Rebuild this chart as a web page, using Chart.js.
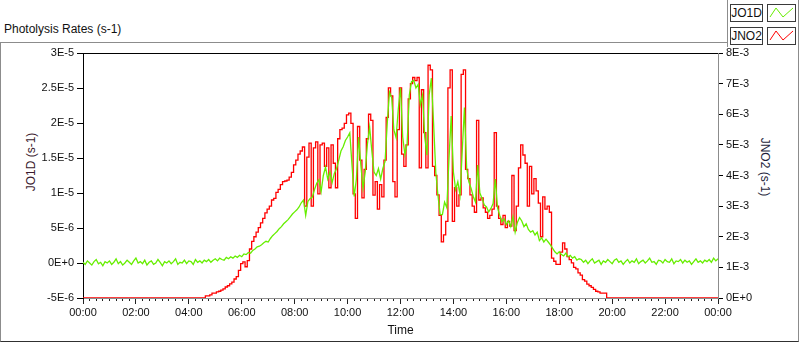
<!DOCTYPE html>
<html>
<head>
<meta charset="utf-8">
<script src="https://cdn.jsdelivr.net/npm/chart.js@4.4.1/dist/chart.umd.min.js"></script>
<style>
  html, body { margin: 0; padding: 0; background: #fff; }
  #wrap { position: relative; width: 800px; height: 342px; overflow: hidden;
          font-family: "Liberation Sans", Arial, sans-serif; color: #111; }
  #frame { position: absolute; left: 0; top: 42px; width: 797px; height: 298px;
           border: 1px solid #8c8c8c; border-bottom-color: #303030; }
  #title { position: absolute; left: 4px; top: 22px; font-size: 12px; white-space: nowrap; }
  #legendPanel { position: absolute; left: 727px; top: 0; width: 70px; height: 47px; background: #fff;
                 border-left: 1px solid #8c8c8c; border-right: 1px solid #8c8c8c; }
  .lgName { position: absolute; left: 730px; width: 33px; height: 18px; box-sizing: border-box;
            border: 1px solid #3a3a3a; font-size: 12px; line-height: 16px; text-align: center; background: #fff; }
  .lgSample { position: absolute; left: 767px; width: 29px; height: 18px; box-sizing: border-box;
              border: 1px solid #3a3a3a; background: #fff; }
  .lgSample svg { position: absolute; left: 0; top: 0; }
  .axTitle { position: absolute; font-size: 12px; white-space: nowrap; transform: translate(-50%, -50%); }
  canvas { position: absolute; left: 0; top: 0; }
</style>
</head>
<body>
<div id="wrap">
  <div id="frame"></div>
  <div id="title">Photolysis Rates (s-1)</div>
  <div id="legendPanel"></div>
  <div class="lgName" style="top:4px">JO1D</div>
  <div class="lgSample" style="top:4px"><svg width="27" height="16"><polyline points="2,12 8,3 15,12 25,3" fill="none" stroke="#66ee00" stroke-width="1"/></svg></div>
  <div class="lgName" style="top:27px">JNO2</div>
  <div class="lgSample" style="top:27px"><svg width="27" height="16"><polyline points="2,12 8,3 15,12 25,3" fill="none" stroke="#ff0000" stroke-width="1"/></svg></div>
  <div class="axTitle" style="left:31px; top:162px; transform: translate(-50%,-50%) rotate(-90deg); color:#3a1a2e">JO1D (s-1)</div>
  <div class="axTitle" style="left:765px; top:167px; transform: translate(-50%,-50%) rotate(90deg); color:#1e1e3a">JNO2 (s-1)</div>
  <canvas id="chart" width="800" height="342"></canvas>
</div>
<script>
// samples every 5 minutes, one row per hour (00:00 ... 23:55), then 24:00
const STEP_MIN = 5;

// JO1D in units of 1E-6 s-1
const jo1dValues = [
  0.1,-0.2,0.3,0.0,-0.3,0.2,0.5,-0.1,0.1,-0.4,0.2,0.0,
  0.3,-0.2,0.1,0.6,-0.1,0.2,-0.3,0.0,0.4,0.1,-0.2,0.3,
  0.7,0.0,0.2,-0.1,0.4,-0.3,0.1,0.3,-0.2,0.0,0.5,0.1,
  -0.4,0.2,0.0,0.3,-0.1,0.2,0.6,-0.2,0.1,0.0,0.4,-0.1,
  0.3,0.2,-0.2,0.5,0.1,0.3,0.0,0.4,0.2,0.5,0.1,0.4,
  0.6,0.3,0.7,0.5,0.4,0.8,0.6,0.9,0.7,1.0,0.8,1.1,
  0.9,1.3,1.2,1.5,1.4,1.8,2.0,2.3,2.4,2.6,2.9,3.1,
  3.0,3.5,3.9,4.2,4.5,4.9,5.2,5.6,5.9,6.2,6.6,7.0,
  7.3,7.6,8.0,8.6,9.0,6.8,8.8,9.2,9.4,10.5,11.4,11.9,
  10.2,12.5,13.7,12.0,13.0,11.5,12.8,13.5,14.7,16.0,16.6,17.5,
  18.0,18.6,14.0,9.5,12.0,18.0,14.0,10.7,13.0,17.0,19.4,16.0,
  13.0,12.5,13.5,12.0,13.5,14.5,20.0,24.4,23.6,19.0,17.9,22.0,
  25.0,18.0,15.5,17.0,24.0,25.9,26.1,25.0,25.5,22.6,24.0,18.0,
  15.4,24.0,26.4,20.0,13.0,9.6,6.9,6.9,8.7,7.9,15.0,21.0,
  13.0,10.5,11.6,9.7,16.0,22.2,13.6,11.6,10.7,9.5,8.7,14.0,
  10.0,9.2,8.3,8.0,7.3,7.8,8.5,12.0,7.9,6.8,5.9,6.3,
  5.5,6.0,5.2,6.6,4.4,5.8,6.5,6.0,5.2,5.6,4.8,4.4,
  4.6,4.0,4.4,3.2,3.6,3.0,3.4,3.0,2.6,2.1,1.6,1.3,
  1.6,1.2,1.0,1.4,0.9,1.1,0.7,0.9,0.4,0.6,0.5,0.1,
  0.4,-0.1,0.3,0.6,0.0,0.2,0.4,-0.2,0.3,0.1,0.5,0.2,
  -0.1,0.4,0.6,0.1,0.3,-0.2,0.2,0.5,0.0,0.3,0.1,0.6,
  -0.1,0.2,0.4,0.0,0.3,0.7,0.1,0.2,-0.2,0.4,0.3,0.0,
  0.5,0.2,0.1,0.6,-0.1,0.3,0.2,0.5,0.0,0.4,0.1,0.3,
  -0.2,0.2,0.6,0.1,0.3,0.0,0.4,0.2,0.5,0.1,0.7,0.3,
  0.6
];

// JNO2 in units of 1E-3 s-1
const jno2Values = [
  0,0,0,0,0,0,0,0,0,0,0,0,
  0,0,0,0,0,0,0,0,0,0,0,0,
  0,0,0,0,0,0,0,0,0,0,0,0,
  0,0,0,0,0,0,0,0,0,0,0,0,
  0,0,0,0,0,0,0,0,0.07,0.07,0.1,0.16,
  0.16,0.2,0.22,0.26,0.3,0.36,0.4,0.46,0.52,0.62,0.7,0.9,
  1.12,1.18,1.02,1.22,1.6,1.85,2.0,2.15,2.3,2.45,2.6,2.78,
  2.9,3.0,3.2,3.25,3.45,3.55,3.7,3.8,3.82,3.85,3.95,4.1,
  4.35,4.5,4.7,4.8,4.93,3.0,4.6,5.06,3.0,4.9,5.1,3.4,
  5.0,5.06,4.3,4.9,3.6,5.0,4.4,3.6,5.2,5.5,5.55,5.7,
  5.98,6.04,5.7,3.4,2.6,5.6,4.5,3.27,4.2,5.2,6.0,5.8,
  3.36,3.8,2.9,3.7,3.3,4.5,5.9,6.86,6.6,3.8,3.3,5.5,
  6.86,4.7,4.3,5.0,6.5,7.0,7.2,7.1,7.2,4.25,6.8,5.4,
  4.25,7.6,7.45,4.3,4.0,3.37,2.7,1.83,2.06,2.5,6.86,7.45,
  2.5,3.6,3.0,3.37,7.3,7.45,4.2,3.9,3.37,3.0,2.8,5.8,
  3.2,3.27,2.94,2.8,2.6,2.7,2.9,5.4,3.0,2.6,2.4,2.7,
  2.3,2.5,2.35,4.0,2.2,3.0,4.25,5.0,4.67,4.4,3.0,4.3,
  3.4,3.9,3.5,3.1,2.0,3.3,2.9,3.0,2.8,1.3,1.2,1.1,
  1.1,1.5,1.8,1.6,1.35,1.25,1.15,1.0,0.95,0.82,0.75,0.6,
  0.55,0.45,0.4,0.35,0.28,0.22,0.2,0.16,0.16,0.16,0,0,
  0,0,0,0,0,0,0,0,0,0,0,0,
  0,0,0,0,0,0,0,0,0,0,0,0,
  0,0,0,0,0,0,0,0,0,0,0,0,
  0,0,0,0,0,0,0,0,0,0,0,0,
  0
];

const timeLabels = ['00:00','02:00','04:00','06:00','08:00','10:00','12:00',
                    '14:00','16:00','18:00','20:00','22:00','00:00'];
const jo1dTickLabels = ['-5E-6','0E+0','5E-6','1E-5','1.5E-5','2E-5','2.5E-5','3E-5'];
const jno2TickLabels = ['0E+0','1E-3','2E-3','3E-3','4E-3','5E-3','6E-3','7E-3','8E-3'];

const FONT = { family: '"Liberation Sans", Arial, sans-serif', size: 11 };
const TEXT = '#111';

const toPoints = arr => arr.map((v, i) => ({ x: i * STEP_MIN, y: v }));

new Chart(document.getElementById('chart'), {
    type: 'line',
    data: {
        datasets: [
            {
                label: 'JO1D',
                data: toPoints(jo1dValues),
                yAxisID: 'yL',
                borderColor: '#66ee00',
                borderWidth: 1.3,
                pointRadius: 0,
                tension: 0,
                order: 0
            },
            {
                label: 'JNO2',
                data: toPoints(jno2Values),
                yAxisID: 'yR',
                borderColor: '#ff0000',
                borderWidth: 1.3,
                pointRadius: 0,
                stepped: 'middle',
                order: 1
            }
        ]
    },
    options: {
        responsive: false,
        animation: false,
        layout: { padding: { top: 53, left: 0, right: 0, bottom: 0 } },
        plugins: { legend: { display: false }, tooltip: { enabled: false } },
        scales: {
            x: {
                type: 'linear', position: 'bottom', min: 0, max: 1440, weight: 1,
                afterFit: s => { s.height = 44; },
                ticks: {
                    stepSize: 120, autoSkip: false, maxRotation: 0, padding: 2,
                    color: TEXT, font: FONT,
                    callback: v => timeLabels[Math.round(v / 120)]
                },
                grid: { drawOnChartArea: false, tickLength: 6, tickColor: '#222' },
                border: { color: '#8c8c8c' },
                title: { display: true, text: 'Time', color: TEXT,
                         font: { family: FONT.family, size: 12 }, padding: { top: 0, bottom: 4 } }
            },
            xMinor: {
                type: 'linear', position: 'bottom', min: 0, max: 1440, weight: 0,
                afterFit: s => { s.height = 0; },
                ticks: { stepSize: 15, autoSkip: false, display: false },
                grid: { drawOnChartArea: false, tickLength: 3, tickColor: '#222' },
                border: { color: '#8c8c8c' }
            },
            xTop: {
                type: 'linear', position: 'top', min: 0, max: 1440,
                afterFit: s => { s.height = 0; },
                ticks: { display: false },
                grid: { display: false },
                border: { color: '#000' }
            },
            yL: {
                type: 'linear', position: 'left', min: -5, max: 30,
                afterFit: s => { s.width = 83; },
                ticks: {
                    stepSize: 5, padding: 3, color: TEXT, font: FONT,
                    callback: v => jo1dTickLabels[Math.round((v + 5) / 5)]
                },
                grid: { drawOnChartArea: false, tickLength: 6, tickColor: '#000' },
                border: { color: '#000' }
            },
            yR: {
                type: 'linear', position: 'right', min: 0, max: 8,
                afterFit: s => { s.width = 82; },
                ticks: {
                    stepSize: 1, padding: 3, color: TEXT, font: FONT,
                    callback: v => jno2TickLabels[Math.round(v)]
                },
                grid: { drawOnChartArea: false, tickLength: 5, tickColor: '#000' },
                border: { color: '#8c8c8c' }
            }
        }
    }
});
</script>
</body>
</html>
